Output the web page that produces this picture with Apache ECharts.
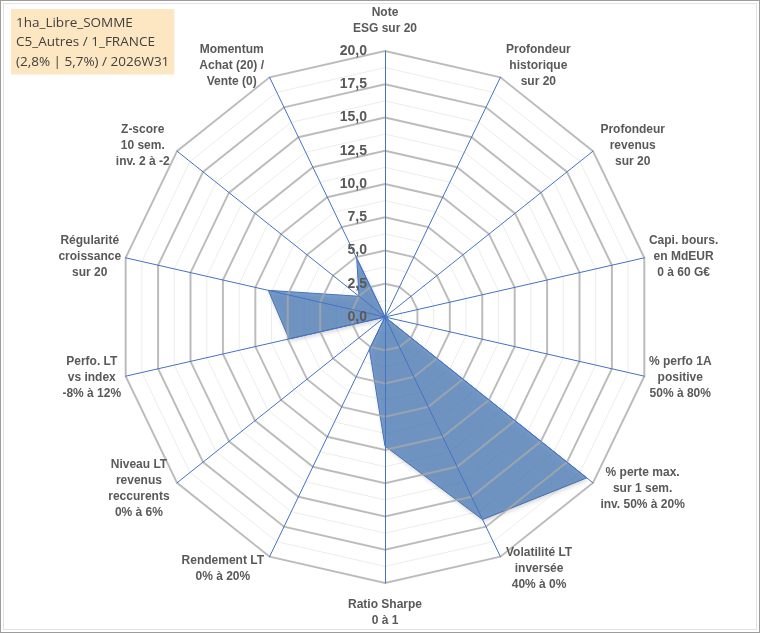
<!DOCTYPE html>
<html>
<head>
<meta charset="utf-8">
<script src="https://cdn.jsdelivr.net/npm/echarts@6/dist/echarts.min.js"></script>
<style>
    html, body { margin: 0; padding: 0; background: #fff; }
    #radar {
        width: 760px; height: 633px; box-sizing: border-box;
        border: 1px solid #9c9c9c;
        box-shadow: inset 0 0 0 2px #fff, inset 0 0 0 3px #e2e2e2;
    }
</style>
</head>
<body>
<div id="radar"></div>
<script>
// axes clockwise from the top
var axisNames = [
    "Note\nESG sur 20",
    "Profondeur\nhistorique\nsur 20",
    "Profondeur\nrevenus\nsur 20",
    "Capi. bours.\nen MdEUR\n0 à 60 G€",
    "% perfo 1A\npositive\n50% à 80%",
    "% perte max.\nsur 1 sem.\ninv. 50% à 20%",
    "Volatilité LT\ninversée\n40% à 0%",
    "Ratio Sharpe\n0 à 1",
    "Rendement LT\n0% à 20%",
    "Niveau LT\nrevenus\nreccurents\n0% à 6%",
    "Perfo. LT\nvs index\n-8% à 12%",
    "Régularité\ncroissance\nsur 20",
    "Z-score\n10 sem.\ninv. 2 à -2",
    "Momentum\nAchat (20) /\nVente (0)"
];
var scores = [0, 0, 0, 0, 0, 19.4, 16.9, 9.7, 2.7, 0, 7.4, 9.0, 2.5, 4.9];
var scaleMax = 20;
var titleLines = ["1ha_Libre_SOMME", "C5_Autres / 1_FRANCE", "(2,8% | 5,7%) / 2026W31"];

var chart = echarts.init(document.getElementById('radar'));

// echarts lays indicators out counter-clockwise, so walk the list backwards after the first
var order = [0];
for (var i = axisNames.length - 1; i > 0; i--) order.push(i);

function indicators(withLabel) {
    return order.map(function (k, n) {
        var ang = 2 * Math.PI * n / order.length;
        // names sit closer to the ring on the sides than at top/bottom
        var ind = { name: axisNames[k], min: 0, max: scaleMax, nameGap: 2 + 12 * Math.abs(Math.cos(ang)) };
        if (withLabel && n === 0) {
            ind.axisLabel = {
                show: true,
                color: '#595959',
                fontSize: 14,
                fontWeight: 'bold',
                fontFamily: 'Arial, Liberation Sans, sans-serif',
                margin: 18,
                formatter: function (v) { return v.toFixed(1).replace('.', ','); }
            };
        }
        return ind;
    });
}

var commonRadar = {
    center: [384, 316],
    radius: 266,
    startAngle: 90,
    shape: 'polygon',
    splitArea: { show: false }
};

var nameFont = {
    color: '#595959',
    fontSize: 12,
    fontWeight: 'bold',
    fontFamily: 'Arial, Liberation Sans, sans-serif',
    lineHeight: 16
};

var option = {
    animation: false,
    title: {
        text: titleLines.join('\n'),
        left: 10,
        top: 8,
        padding: [4, 5, 3, 5],
        backgroundColor: '#fce7c2',
        textStyle: {
            color: '#404040',
            fontSize: 13.5,
            fontWeight: 'normal',
            fontFamily: 'Open Sans, Liberation Sans, sans-serif',
            lineHeight: 19.5
        }
    },
    radar: [
        Object.assign({}, commonRadar, {
            indicator: indicators(false),
            splitNumber: 16,
            axisName: { show: false },
            axisLine: { show: false },
            axisTick: { show: false },
            axisLabel: { show: false },
            splitLine: { lineStyle: { color: '#ececec', width: 1 } }
        }),
        Object.assign({}, commonRadar, {
            z: 3,
            indicator: indicators(true),
            splitNumber: 8,
            axisName: Object.assign({}, nameFont, {
                formatter: function (name) {
                    return name.split('\n').map(function (l) { return '{c|' + l + '}'; }).join('\n');
                },
                rich: { c: Object.assign({ align: 'center' }, nameFont) }
            }),
            axisLine: { lineStyle: { color: '#4472c4', width: 1 } },
            axisTick: { show: false },
            axisLabel: { show: false },
            splitLine: { lineStyle: { color: 'rgba(170,170,170,0.75)', width: 2 } }
        })
    ],
    series: [
        {
            type: 'radar',
            radarIndex: 1,
            z: 2,
            symbol: 'none',
            lineStyle: { color: '#4472c4', width: 1 },
            areaStyle: {
                color: '#4f7fbb', opacity: 0.75,
                shadowColor: 'rgba(0,0,0,0.25)', shadowBlur: 4, shadowOffsetX: 1, shadowOffsetY: 2
            },
            data: [{ value: order.map(function (k) { return scores[k]; }) }]
        }
    ]
};
chart.setOption(option);
</script>
</body>
</html>
